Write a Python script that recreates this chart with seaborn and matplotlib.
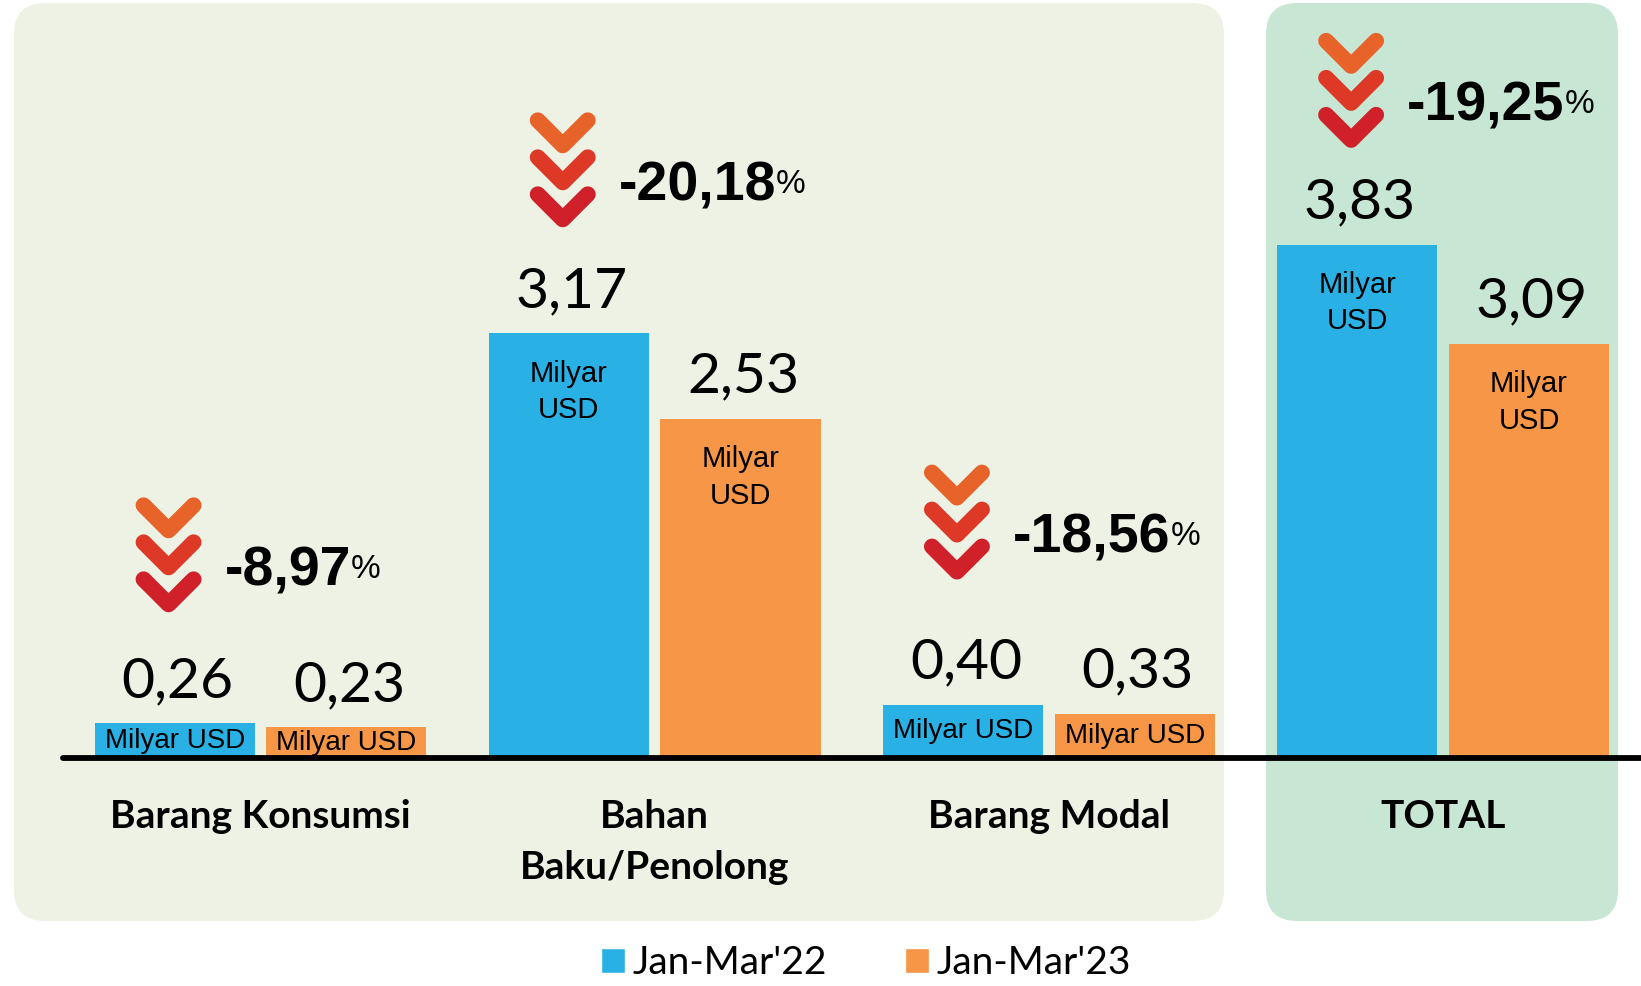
import matplotlib
matplotlib.use("Agg")
import matplotlib.pyplot as plt
import seaborn as sns
import pandas as pd
from matplotlib.patches import FancyBboxPatch, Patch
from matplotlib.transforms import IdentityTransform

# data
categories = ["Barang Konsumsi", "Bahan\nBaku/Penolong", "Barang Modal", "TOTAL"]
periods = ["Jan-Mar'22", "Jan-Mar'23"]
values_22 = [0.26, 3.17, 0.40, 3.83]
values_23 = [0.23, 2.53, 0.33, 3.09]
changes = ["-8,97", "-20,18", "-18,56", "-19,25"]
unit = "Milyar USD"

BLUE = "#29B1E6"
ORANGE = "#F79646"
CHEVRON = ["#E8632A", "#DE3827", "#D0202A"]
PANEL_LEFT = "#EEF2E5"
PANEL_RIGHT = "#C8E6D4"
W, H = 1641, 986
PCT_LIFT_PX = [158, 153, 172, 144]  # layout: height of the % label above the taller bar

sns.set_theme(style="white")
plt.rcParams["font.family"] = ["Lato", "DejaVu Sans"]
plt.rcParams["text.color"] = "black"

df = pd.DataFrame({
    "kategori": categories * 2,
    "periode": [periods[0]] * len(categories) + [periods[1]] * len(categories),
    "nilai": values_22 + values_23,
})

fig = plt.figure(figsize=(W / 100, H / 100), dpi=100)
fig.patch.set_facecolor("white")
ax = fig.add_axes([0, 0, 1, 1])
ax.set_facecolor("none")


def panel(x0, y0, x1, y1, color):
    # rounded background box, given in image pixels (y down)
    p = FancyBboxPatch((x0 / W, 1 - y1 / H), (x1 - x0) / W, (y1 - y0) / H,
                       boxstyle="round,pad=0,rounding_size=0.019",
                       mutation_aspect=W / H, transform=fig.transFigure,
                       facecolor=color, edgecolor="none", zorder=0)
    ax.add_patch(p)


panel(14, 3, 1224, 921, PANEL_LEFT)
panel(1266, 3, 1618, 921, PANEL_RIGHT)

sns.barplot(data=df, x="kategori", y="nilai", hue="periode", order=categories,
            hue_order=periods, palette=[BLUE, ORANGE], saturation=1,
            width=0.871, gap=0.067, legend=False, ax=ax, zorder=2,
            edgecolor="none", linewidth=0)

ax.set_xlim(-0.661, 3.502)
ax.set_ylim(-1.70, 5.657)
ax.autoscale(False)
ax.axis("off")

ax.axhline(0, xmin=63 / W, xmax=1, color="black", lw=4.2, zorder=3)

# value labels and unit labels
for cont, vals in zip(ax.containers, [values_22, values_23]):
    bars = sorted(cont, key=lambda b: b.get_x())
    for bar, v in zip(bars, vals):
        cx = bar.get_x() + bar.get_width() / 2
        ax.annotate(f"{v:.2f}".replace(".", ","), (cx, v), xytext=(2, 19),
                    textcoords="offset points", ha="center", va="baseline",
                    fontsize=41, zorder=4)
        if v > 1:
            ax.annotate("Milyar\nUSD", (cx, v), xytext=(0, -19),
                        textcoords="offset points", ha="center", va="top",
                        fontsize=21, family=["Liberation Sans"],
                        linespacing=1.37, zorder=4)
        else:
            ax.text(cx, v / 2, unit, ha="center", va="center", fontsize=20,
                    family=["Liberation Sans"], zorder=4)

# category labels
for i, cat in enumerate(categories):
    ax.text(i, -0.306, cat, ha="center", va="top", fontsize=28,
            fontweight="bold", linespacing=1.55)

# percentage change with chevron icons
for i, (ch, lift) in enumerate(zip(changes, PCT_LIFT_PX)):
    top = max(values_22[i], values_23[i])
    px, py = ax.transData.transform((i, top))
    tx = px - 36
    tc = py + lift  # visual centre of the digits
    t = ax.text(tx, tc - 20, ch, transform=IdentityTransform(), ha="left",
                va="baseline", fontsize=40, fontweight="bold",
                family=["Liberation Sans"], zorder=4)
    ax.annotate("%", xy=(1, 0), xycoords=t, xytext=(0, 9),
                textcoords="offset points", ha="left", va="bottom",
                fontsize=24, family=["Liberation Sans"], zorder=4)
    cx = tx - 56
    ycap = tc + 60
    for k, col in enumerate(CHEVRON):
        y0 = ycap - 37 * k
        ax.plot([cx - 25, cx, cx + 25], [y0, y0 - 25, y0],
                transform=IdentityTransform(), color=col, lw=11.5,
                solid_capstyle="round", solid_joinstyle="round", zorder=4)

fig.legend(handles=[Patch(facecolor=BLUE), Patch(facecolor=ORANGE)],
           labels=periods, loc="center", bbox_to_anchor=(866 / W, 1 - 963 / H),
           ncol=2, frameon=False, fontsize=28, handlelength=0.62,
           handleheight=0.62, handletextpad=0.2, columnspacing=2.0,
           borderpad=0.1)

fig.savefig("out.png", dpi=100)
plt.close(fig)
